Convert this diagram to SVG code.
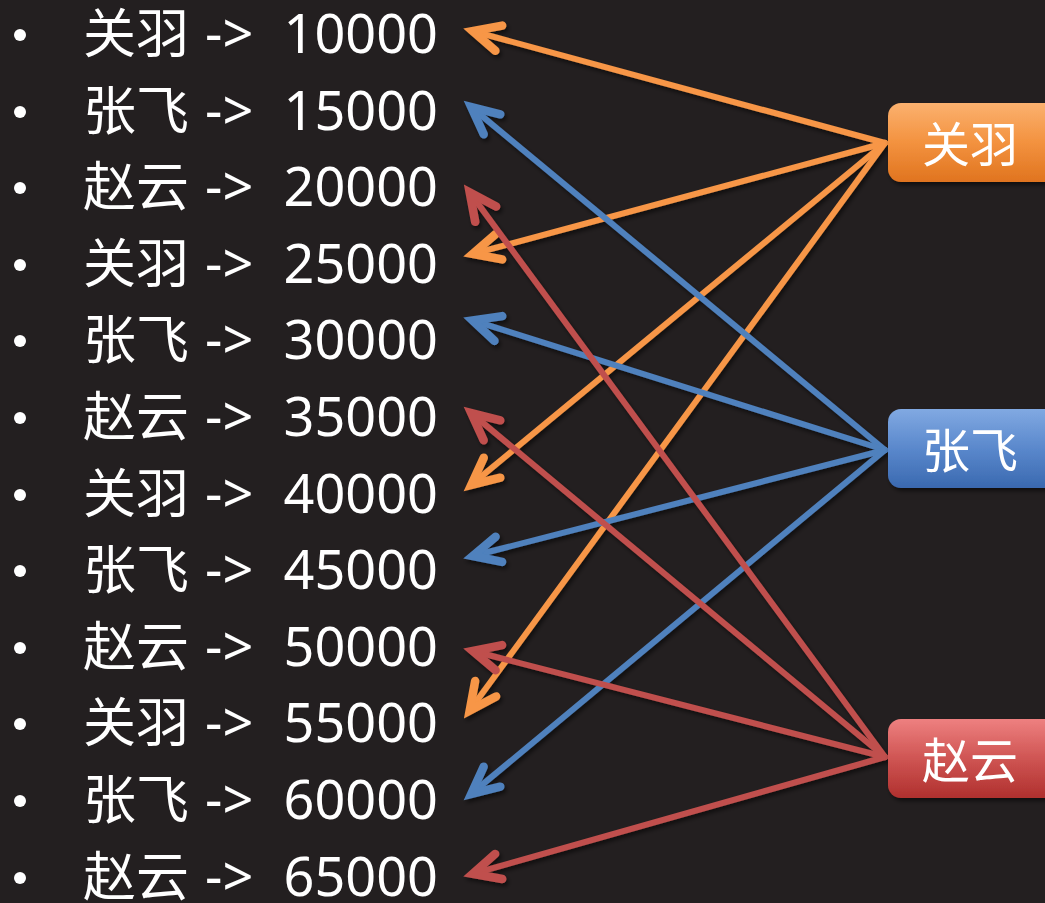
<svg xmlns="http://www.w3.org/2000/svg" width="1045" height="903" viewBox="0 0 1045 903">
  <defs>
    <style>
      .cn { font-family: "Noto Sans CJK SC", "Noto Sans", sans-serif; font-size: 53px; fill: #ffffff; }
      .lat { font-family: "Noto Sans", "Open Sans", sans-serif; font-size: 54px; fill: #ffffff; }
      .num { font-family: "Noto Sans", "Open Sans", sans-serif; font-size: 54px; fill: #ffffff; text-anchor: end; }
      .bul { fill: #ffffff; }
      .node-label { font-family: "Noto Sans CJK SC", "Noto Sans", sans-serif; font-size: 48px; fill: #ffffff; text-anchor: middle; }
      .arr { fill: none; stroke-width: 6; stroke-linecap: round; }
      .or { stroke: #f79646; }
      .bl { stroke: #4f81bd; }
      .rd { stroke: #c0504d; }
    </style>
    <filter id="sh" x="-10%" y="-10%" width="120%" height="120%">
      <feDropShadow dx="2" dy="3" stdDeviation="2" flood-color="#000000" flood-opacity="0.55"/>
    </filter>
    <marker id="mo" markerUnits="userSpaceOnUse" markerWidth="60" markerHeight="60" viewBox="-40 -30 60 60" refX="0" refY="0" orient="auto" overflow="visible">
      <path d="M-27,-13 L0,0 L-27,13" fill="none" stroke="#f79646" stroke-width="8.5" stroke-linecap="round" stroke-linejoin="miter" stroke-miterlimit="10"/>
    </marker>
    <marker id="mb" markerUnits="userSpaceOnUse" markerWidth="60" markerHeight="60" viewBox="-40 -30 60 60" refX="0" refY="0" orient="auto" overflow="visible">
      <path d="M-27,-13 L0,0 L-27,13" fill="none" stroke="#4f81bd" stroke-width="8.5" stroke-linecap="round" stroke-linejoin="miter" stroke-miterlimit="10"/>
    </marker>
    <marker id="mr" markerUnits="userSpaceOnUse" markerWidth="60" markerHeight="60" viewBox="-40 -30 60 60" refX="0" refY="0" orient="auto" overflow="visible">
      <path d="M-27,-13 L0,0 L-27,13" fill="none" stroke="#c0504d" stroke-width="8.5" stroke-linecap="round" stroke-linejoin="miter" stroke-miterlimit="10"/>
    </marker>
    <linearGradient id="gO" x1="0" y1="0" x2="0" y2="1">
      <stop offset="0" stop-color="#fbb16f"/>
      <stop offset="0.5" stop-color="#f3923f"/>
      <stop offset="1" stop-color="#e0741f"/>
    </linearGradient>
    <linearGradient id="gB" x1="0" y1="0" x2="0" y2="1">
      <stop offset="0" stop-color="#81a9e2"/>
      <stop offset="0.5" stop-color="#5a88cc"/>
      <stop offset="1" stop-color="#3a69b0"/>
    </linearGradient>
    <linearGradient id="gR" x1="0" y1="0" x2="0" y2="1">
      <stop offset="0" stop-color="#ee8080"/>
      <stop offset="0.5" stop-color="#cf5553"/>
      <stop offset="1" stop-color="#b0302e"/>
    </linearGradient>
  </defs>

  <rect x="0" y="0" width="1045" height="903" fill="#231f20"/>

  <g id="list">
    <g id="row1"><circle class="bul" cx="20" cy="35" r="6"/><text class="cn" x="83" y="53">关羽</text><text class="lat" x="205" y="53">-&gt;</text><text class="num" x="438" y="53">10000</text></g>
    <g id="row2"><circle class="bul" cx="20" cy="112" r="6"/><text class="cn" x="83" y="130">张飞</text><text class="lat" x="205" y="130">-&gt;</text><text class="num" x="438" y="130">15000</text></g>
    <g id="row3"><circle class="bul" cx="20" cy="188" r="6"/><text class="cn" x="83" y="206">赵云</text><text class="lat" x="205" y="206">-&gt;</text><text class="num" x="438" y="206">20000</text></g>
    <g id="row4"><circle class="bul" cx="20" cy="265" r="6"/><text class="cn" x="83" y="283">关羽</text><text class="lat" x="205" y="283">-&gt;</text><text class="num" x="438" y="283">25000</text></g>
    <g id="row5"><circle class="bul" cx="20" cy="341" r="6"/><text class="cn" x="83" y="359">张飞</text><text class="lat" x="205" y="359">-&gt;</text><text class="num" x="438" y="359">30000</text></g>
    <g id="row6"><circle class="bul" cx="20" cy="418" r="6"/><text class="cn" x="83" y="436">赵云</text><text class="lat" x="205" y="436">-&gt;</text><text class="num" x="438" y="436">35000</text></g>
    <g id="row7"><circle class="bul" cx="20" cy="495" r="6"/><text class="cn" x="83" y="513">关羽</text><text class="lat" x="205" y="513">-&gt;</text><text class="num" x="438" y="513">40000</text></g>
    <g id="row8"><circle class="bul" cx="20" cy="571" r="6"/><text class="cn" x="83" y="589">张飞</text><text class="lat" x="205" y="589">-&gt;</text><text class="num" x="438" y="589">45000</text></g>
    <g id="row9"><circle class="bul" cx="20" cy="648" r="6"/><text class="cn" x="83" y="666">赵云</text><text class="lat" x="205" y="666">-&gt;</text><text class="num" x="438" y="666">50000</text></g>
    <g id="row10"><circle class="bul" cx="20" cy="724" r="6"/><text class="cn" x="83" y="742">关羽</text><text class="lat" x="205" y="742">-&gt;</text><text class="num" x="438" y="742">55000</text></g>
    <g id="row11"><circle class="bul" cx="20" cy="801" r="6"/><text class="cn" x="83" y="819">张飞</text><text class="lat" x="205" y="819">-&gt;</text><text class="num" x="438" y="819">60000</text></g>
    <g id="row12"><circle class="bul" cx="20" cy="878" r="6"/><text class="cn" x="83" y="896">赵云</text><text class="lat" x="205" y="896">-&gt;</text><text class="num" x="438" y="896">65000</text></g>
  </g>

  <g id="connectors" filter="url(#sh)">
    <line class="arr or" x1="885" y1="143" x2="472.7" y2="31.1" marker-end="url(#mo)"/>
    <line class="arr or" x1="885" y1="143" x2="472.7" y2="253.9" marker-end="url(#mo)"/>
    <line class="arr or" x1="885" y1="143" x2="471.2" y2="484.9" marker-end="url(#mo)"/>
    <line class="arr or" x1="885" y1="143" x2="469.7" y2="710.5" marker-end="url(#mo)"/>
    <line class="arr bl" x1="885" y1="450" x2="471.2" y2="107.1" marker-end="url(#mb)"/>
    <line class="arr bl" x1="885" y1="450" x2="472.6" y2="320.4" marker-end="url(#mb)"/>
    <line class="arr bl" x1="885" y1="450" x2="472.7" y2="556.0" marker-end="url(#mb)"/>
    <line class="arr bl" x1="885" y1="450" x2="471.2" y2="793.9" marker-end="url(#mb)"/>
    <line class="arr rd" x1="885" y1="757" x2="469.7" y2="192.4" marker-end="url(#mr)"/>
    <line class="arr rd" x1="885" y1="757" x2="471.2" y2="413.1" marker-end="url(#mr)"/>
    <line class="arr rd" x1="885" y1="757" x2="472.7" y2="651.0" marker-end="url(#mr)"/>
    <line class="arr rd" x1="885" y1="757" x2="472.7" y2="873.8" marker-end="url(#mr)"/>
  </g>

  <g id="node-guanyu" filter="url(#sh)">
    <rect x="888" y="103" width="175" height="79" rx="13" fill="url(#gO)"/>
    <text class="node-label" x="970" y="162">关羽</text>
  </g>
  <g id="node-zhangfei" filter="url(#sh)">
    <rect x="888" y="409" width="175" height="79" rx="13" fill="url(#gB)"/>
    <text class="node-label" x="970" y="468">张飞</text>
  </g>
  <g id="node-zhaoyun" filter="url(#sh)">
    <rect x="888" y="719" width="175" height="79" rx="13" fill="url(#gR)"/>
    <text class="node-label" x="970" y="778">赵云</text>
  </g>
</svg>
